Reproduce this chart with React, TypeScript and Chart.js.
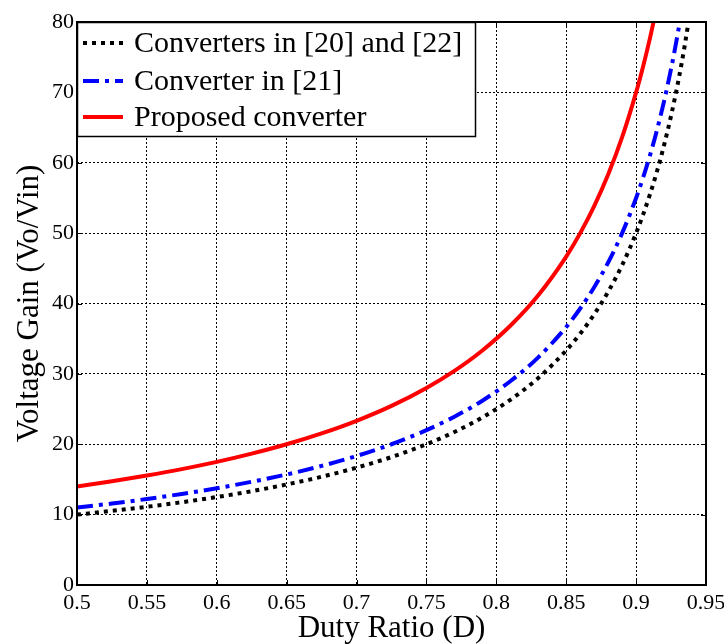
import React, { useEffect, useRef } from "react";
import { Chart, registerables } from "chart.js";

Chart.register(...registerables);

const dutyRatio = [0.5, 0.525, 0.55, 0.575, 0.6, 0.625, 0.65, 0.675, 0.7, 0.725, 0.75, 0.77, 0.79, 0.81, 0.83, 0.85, 0.86, 0.87, 0.88, 0.89, 0.9, 0.905, 0.91, 0.915, 0.92, 0.925, 0.93, 0.935, 0.94];

const gainRef2022 = [10.0, 10.53, 11.11, 11.76, 12.5, 13.33, 14.29, 15.38, 16.67, 18.18, 20.0, 21.74, 23.81, 26.32, 29.41, 33.33, 35.71, 38.46, 41.67, 45.45, 50.0, 52.63, 55.56, 58.82, 62.5, 66.67, 71.43, 76.92, 83.33];
const gainRef21 = [11.0, 11.58, 12.22, 12.94, 13.75, 14.67, 15.71, 16.92, 18.33, 20.0, 22.0, 23.91, 26.19, 28.95, 32.35, 36.67, 39.29, 42.31, 45.83, 50.0, 55.0, 57.89, 61.11, 64.71, 68.75, 73.33, 78.57, 84.62];
const gainProposed = [14.0, 14.74, 15.56, 16.47, 17.5, 18.67, 20.0, 21.54, 23.33, 25.45, 28.0, 30.43, 33.33, 36.84, 41.18, 46.67, 50.0, 53.85, 58.33, 63.64, 70.0, 73.68, 77.78, 82.35];

const seriesLabels = ["Converters in [20] and [22]", "Converter in [21]", "Proposed converter"];

const xTickValues = [0.5, 0.55, 0.6, 0.65, 0.7, 0.75, 0.8, 0.85, 0.9, 0.95];
const xTickLabels = ["0.5", "0.55", "0.6", "0.65", "0.7", "0.75", "0.8", "0.85", "0.9", "0.95"];
const yTickValues = [0, 10, 20, 30, 40, 50, 60, 70, 80];
const yTickLabels = ["0", "10", "20", "30", "40", "50", "60", "70", "80"];

const FONT = "'Liberation Serif', 'Times New Roman', serif";

const toPoints = (vals: number[]) => vals.map((y, i) => ({ x: dutyRatio[i], y }));

const framePlugin = {
  id: "frame",
  afterDraw(chart: any) {
    const { ctx, chartArea } = chart;
    const { left, right, top, bottom } = chartArea;
    const xs = chart.scales.x;
    const ys = chart.scales.y;
    ctx.save();
    ctx.strokeStyle = "#000";
    ctx.lineWidth = 1;
    ctx.setLineDash([]);
    const t = 5;
    xTickValues.forEach((v) => {
      const px = Math.round(xs.getPixelForValue(v)) + 0.5;
      ctx.beginPath();
      ctx.moveTo(px, bottom);
      ctx.lineTo(px, bottom - t);
      ctx.moveTo(px, top);
      ctx.lineTo(px, top + t);
      ctx.stroke();
    });
    yTickValues.forEach((v) => {
      const py = Math.round(ys.getPixelForValue(v)) + 0.5;
      ctx.beginPath();
      ctx.moveTo(left, py);
      ctx.lineTo(left + t, py);
      ctx.moveTo(right, py);
      ctx.lineTo(right - t, py);
      ctx.stroke();
    });
    ctx.lineWidth = 2;
    ctx.strokeRect(left, top, right - left, bottom - top);

    // legend
    const lx = left;
    const ly = top;
    const lw = 398;
    const lh = 114;
    ctx.fillStyle = "#fff";
    ctx.fillRect(lx, ly, lw, lh);
    ctx.lineWidth = 1.5;
    ctx.strokeStyle = "#000";
    ctx.strokeRect(lx + 0.5, ly + 0.5, lw, lh);
    const rows = [21, 59, 95];
    chart.data.datasets.forEach((ds: any, i: number) => {
      const cy = ly + rows[i];
      ctx.save();
      ctx.strokeStyle = ds.borderColor;
      ctx.lineWidth = ds.borderWidth;
      ctx.setLineDash(ds.borderDash || []);
      ctx.beginPath();
      ctx.moveTo(lx + 6, cy);
      ctx.lineTo(lx + 46, cy);
      ctx.stroke();
      ctx.restore();
      ctx.fillStyle = "#000";
      ctx.font = `30px ${FONT}`;
      ctx.textBaseline = "middle";
      ctx.textAlign = "left";
      ctx.fillText(ds.label, lx + 57, cy + 1);
    });
    ctx.restore();
  },
};

export default function App() {
  const ref = useRef<HTMLCanvasElement | null>(null);
  useEffect(() => {
    document.body.style.margin = "0";
    if (!ref.current) return;
    const chart = new Chart(ref.current, {
      type: "line",
      data: {
        datasets: [
          {
            label: seriesLabels[0],
            data: toPoints(gainRef2022),
            borderColor: "#000000",
            borderWidth: 4,
            borderDash: [4, 5],
            pointRadius: 0,
            fill: false,
            clip: 0,
            cubicInterpolationMode: "monotone",
          },
          {
            label: seriesLabels[1],
            data: toPoints(gainRef21),
            borderColor: "#0000ff",
            borderWidth: 4,
            borderDash: [16, 6, 4, 6],
            pointRadius: 0,
            fill: false,
            clip: 0,
            cubicInterpolationMode: "monotone",
          },
          {
            label: seriesLabels[2],
            data: toPoints(gainProposed),
            borderColor: "#ff0000",
            borderWidth: 4,
            pointRadius: 0,
            fill: false,
            clip: 0,
            cubicInterpolationMode: "monotone",
          },
        ] as any,
      },
      options: {
        animation: false,
        responsive: false,
        maintainAspectRatio: false,
        layout: { padding: { left: 11, top: 22, right: 18, bottom: 0 } },
        plugins: { legend: { display: false }, tooltip: { enabled: false } },
        scales: {
          x: {
            type: "linear",
            min: 0.5,
            max: 0.95,
            afterBuildTicks: (s: any) => {
              s.ticks = xTickValues.map((v) => ({ value: v }));
            },
            afterFit: (s: any) => {
              s.height = 59;
              s.paddingLeft = 0;
              s.paddingRight = 0;
            },
            ticks: {
              callback: (_v: any, i: number) => xTickLabels[i],
              color: "#000",
              font: { family: FONT, size: 22 },
              padding: 5,
              maxRotation: 0,
              autoSkip: false,
            },
            grid: { color: "#000", lineWidth: 1, drawTicks: false },
            border: { display: false, dash: [2, 2] },
            title: {
              display: true,
              text: "Duty Ratio (D)",
              color: "#000",
              font: { family: FONT, size: 31, lineHeight: 1 },
              padding: 0,
            },
          },
          y: {
            type: "linear",
            min: 0,
            max: 80,
            afterBuildTicks: (s: any) => {
              s.ticks = yTickValues.map((v) => ({ value: v }));
            },
            afterFit: (s: any) => {
              s.width = 66;
              s.paddingTop = 0;
              s.paddingBottom = 0;
            },
            ticks: {
              callback: (_v: any, i: number) => yTickLabels[i],
              color: "#000",
              font: { family: FONT, size: 22 },
              padding: 3,
              autoSkip: false,
            },
            grid: { color: "#000", lineWidth: 1, drawTicks: false },
            border: { display: false, dash: [2, 2] },
            title: {
              display: true,
              text: "Voltage Gain (Vo/Vin)",
              color: "#000",
              font: { family: FONT, size: 31 },
              padding: 0,
            },
          },
        },
      },
      plugins: [framePlugin],
    });
    return () => chart.destroy();
  }, []);
  return (
    <div style={{ width: 724, height: 644 }}>
      <canvas ref={ref} width={724} height={644} style={{ display: "block" }} />
    </div>
  );
}
